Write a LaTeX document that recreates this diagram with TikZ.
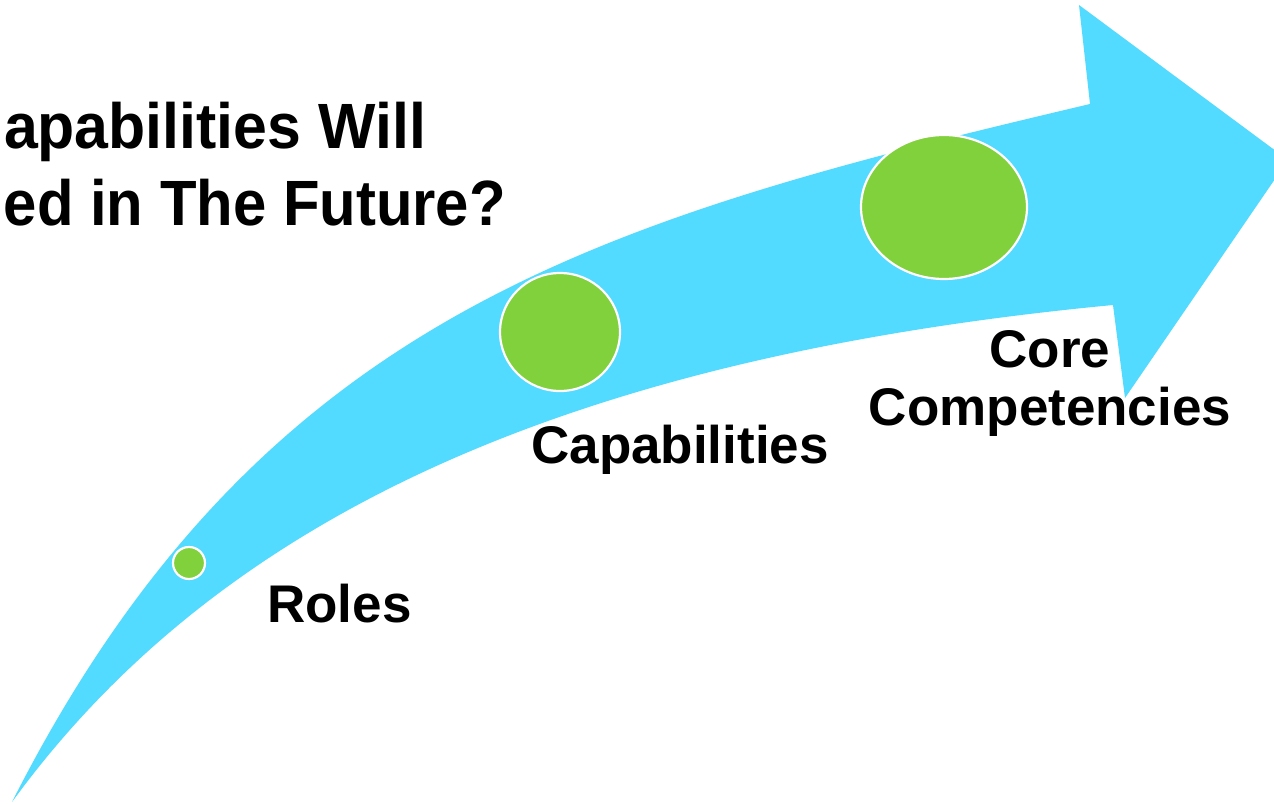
\documentclass[tikz,border=0pt]{standalone}
\usepackage{fontspec}
\usepackage{graphicx}
\setmainfont{Liberation Sans}
\usetikzlibrary{shapes.geometric}
\definecolor{arrowblue}{HTML}{52DAFF}
\definecolor{dotgreen}{HTML}{81D13D}
\tikzset{
  dot/.style={fill=dotgreen, draw=white, line width=2.2pt, inner sep=0pt},
  lbl/.style={font=\bfseries\fontsize{53}{58}\selectfont, inner sep=0pt, text=black},
  ttl/.style={font=\bfseries\fontsize{64}{77}\selectfont, inner sep=0pt, text=black}
}
\begin{document}
\begin{tikzpicture}[x=1pt,y=-1pt]
\useasboundingbox (0,0) rectangle (1274,803);
\clip (0,0) rectangle (1274,803);
\fill[white] (0,0) rectangle (1274,803);
% arrow
\fill[arrowblue] (12,802) .. controls (260,313) and (603,219) .. (1090,104)
  -- (1079,5) -- (1288,160) -- (1125,398) -- (1113,305)
  .. controls (566,357) and (218.5,518.5) .. (12,802) -- cycle;
% circles
\node[dot, circle, minimum size=32pt] (roles) at (189,563) {};
\node[dot, ellipse, minimum width=120pt, minimum height=118pt] (capab) at (560,332) {};
\node[dot, ellipse, minimum width=166pt, minimum height=144pt] (core) at (944,207) {};
% labels
\node[lbl, anchor=base west] (rolesl) at (267,622) {Roles};
\node[lbl, anchor=base] (capabl) at (680,463) {Capabilities};
\node[lbl, anchor=base, align=center] (corel) at (1050,425) {Core\\Competencies};
% title
\node[ttl, anchor=base east] (title1) at (426,148) {\scalebox{0.95}[1]{apabilities Will}};
\node[ttl, anchor=base east] (title2) at (506,225) {\scalebox{0.935}[1]{ed in The Future?}};
\end{tikzpicture}
\end{document}
